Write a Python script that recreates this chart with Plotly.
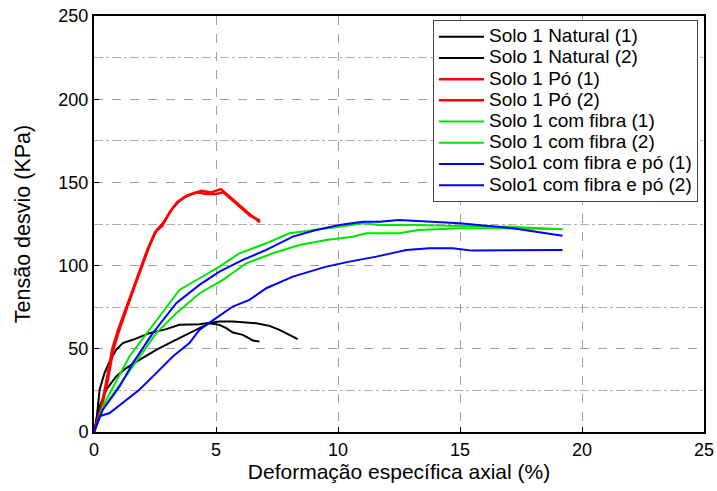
import plotly.graph_objects as go

# Deformação específica axial (%) and Tensão desvio (kPa) for each test
nat1_x = [0, 0.09, 0.23, 0.43, 0.64, 0.91, 1.18, 1.59, 2.27, 2.96, 3.5, 4.32, 5.14, 5.69, 6.65, 7.19, 7.6, 8.35]
nat1_y = [0, 5.4, 25.4, 35.4, 42.4, 49.4, 53.4, 55.4, 59.4, 61.8, 64.4, 64.8, 66.4, 66.4, 65.4, 63.8, 61.4, 55.8]
nat2_x = [0, 0.1, 0.25, 0.5, 0.91, 1.32, 1.86, 2.55, 3.23, 3.91, 4.46, 4.73, 5.14, 5.42, 5.69, 6.1, 6.51, 6.78]
nat2_y = [0, 8, 16, 25.4, 33.4, 38.4, 43.4, 49.4, 54.4, 59.4, 63.4, 65.4, 64.4, 62.4, 59.8, 58.4, 55.0, 54.4]

po1_x = [0, 0.3, 0.5, 0.75, 1.0, 1.3, 1.6, 1.9, 2.2, 2.5, 2.8, 3.1, 3.4, 3.7, 4.0, 4.4, 4.8, 5.2, 5.5, 5.9, 6.3, 6.8]
po1_y = [0, 15, 30, 50, 62, 74, 86, 98, 110, 120, 124, 132, 138, 141, 143, 145, 144, 146, 142, 137, 132, 126]
po2_x = [0, 0.3, 0.55, 0.8, 1.05, 1.35, 1.65, 1.95, 2.25, 2.55, 2.85, 3.2, 3.5, 3.8, 4.2, 4.6, 5.0, 5.3, 5.6, 6.0, 6.4, 6.8]
po2_y = [0, 14, 30, 50, 62, 75, 87, 99, 111, 121, 126, 134, 139, 142, 144, 143, 143, 144, 140, 135, 130, 127]

fib1_x = [0, 0.36, 1.45, 2.27, 3.09, 3.5, 4.33, 5.14, 5.96, 7.06, 8.01, 9.1, 10.06, 11.02, 11.7, 12.5, 13.1, 14.98, 17.1, 19.2]
fib1_y = [0, 15.4, 45.4, 61.4, 77.4, 85.4, 92.4, 99.4, 107.4, 113.4, 119.4, 121.4, 123.4, 125.4, 124.4, 124.4, 124.4, 123.8, 123.4, 121.8]
fib2_x = [0, 0.36, 1.59, 2.55, 3.37, 4.33, 5.28, 6.24, 7.33, 8.42, 9.52, 10.6, 11.16, 11.7, 12.5, 13.3, 15.0, 16.5, 17.8, 19.2]
fib2_y = [0, 14, 39.4, 59.4, 71.4, 83.4, 91.4, 101.4, 107.4, 112.4, 115.4, 117.4, 119.4, 119.4, 119.4, 121.4, 122.4, 122.4, 122.4, 122.0]

fp1_x = [0, 0.36, 1.05, 1.59, 2.41, 3.37, 4.32, 5.14, 6.1, 7.06, 8.15, 9.1, 10.06, 11.02, 11.7, 12.5, 14.98, 17.16, 19.2]
fp1_y = [0, 13.4, 27.4, 41.4, 59.4, 77.4, 88.4, 96.4, 103.4, 109.4, 117.4, 121.4, 124.4, 126.4, 126.4, 127.4, 125.4, 122.4, 118.0]
fp2_x = [0, 0.23, 0.64, 1.18, 1.86, 2.55, 3.23, 3.91, 4.32, 5.0, 5.69, 6.37, 7.06, 8.15, 9.52, 10.47, 11.57, 12.5, 12.8, 13.75, 14.7, 15.5, 19.2]
fp2_y = [0, 9.4, 11.4, 17.4, 25.4, 35.4, 45.4, 53.4, 61.4, 68.4, 75.4, 79.4, 86.4, 93.4, 99.4, 102.4, 105.4, 108.4, 109.4, 110.4, 110.4, 109.0, 109.4]

series = [
    ("Solo 1 Natural (1)", nat1_x, nat1_y, "#000000", 2),
    ("Solo 1 Natural (2)", nat2_x, nat2_y, "#000000", 2),
    ("Solo 1 Pó (1)", po1_x, po1_y, "#ff0000", 2.5),
    ("Solo 1 Pó (2)", po2_x, po2_y, "#ff0000", 2.5),
    ("Solo 1 com fibra (1)", fib1_x, fib1_y, "#00e600", 2),
    ("Solo 1 com fibra (2)", fib2_x, fib2_y, "#00e600", 2),
    ("Solo1 com fibra e pó (1)", fp1_x, fp1_y, "#0000ff", 2),
    ("Solo1 com fibra e pó (2)", fp2_x, fp2_y, "#0000ff", 2),
]

x_ticks = [0, 5, 10, 15, 20, 25]
y_ticks = [0, 50, 100, 150, 200, 250]

fig = go.Figure()
for name, xs, ys, color, w in series:
    fig.add_trace(go.Scatter(
        x=xs, y=ys, mode="lines",
        # legend rows stay compact while the label text is set larger
        name=f'<span style="font-size:19px">{name}</span>',
        line=dict(color=color, width=w)))

font = "Liberation Sans, Arial, sans-serif"
fig.update_layout(
    width=717, height=491,
    margin=dict(l=94, r=13, t=16, b=59),
    paper_bgcolor="white", plot_bgcolor="white",
    font=dict(family=font, color="black"),
    legend=dict(x=0.5557, y=0.99, xanchor="left", yanchor="top",
                bgcolor="white", bordercolor="#444444", borderwidth=1,
                font=dict(size=14, family=font), tracegroupgap=0,
                itemwidth=45),
    showlegend=True,
)
fig.update_xaxes(
    range=[0, 25], tickvals=x_ticks, ticktext=[str(v) for v in x_ticks],
    showline=True, linecolor="black", linewidth=2, mirror=True,
    ticks="inside", ticklen=5, tickcolor="black",
    showgrid=True, gridcolor="#a0a0a0", griddash="dash", gridwidth=1,
    zeroline=False, tickfont=dict(size=18), automargin=False,
    title=dict(text="Deformação específica axial (%)", font=dict(size=21), standoff=3),
)
fig.update_yaxes(
    range=[0, 250], tickvals=y_ticks, ticktext=[str(v) for v in y_ticks],
    showline=True, linecolor="black", linewidth=2, mirror=True,
    ticks="inside", ticklen=5, tickcolor="black",
    showgrid=True, gridcolor="#a0a0a0", griddash="dash", gridwidth=1,
    minor=dict(tickvals=[25, 75, 125, 175, 225], showgrid=True,
               gridcolor="#b0b0b0", griddash="dashdot", gridwidth=1),
    zeroline=False, tickfont=dict(size=18), automargin=False,
    title=dict(text="Tensão desvio (KPa)", font=dict(size=21.5), standoff=22),
)

fig.write_html("out.html")
